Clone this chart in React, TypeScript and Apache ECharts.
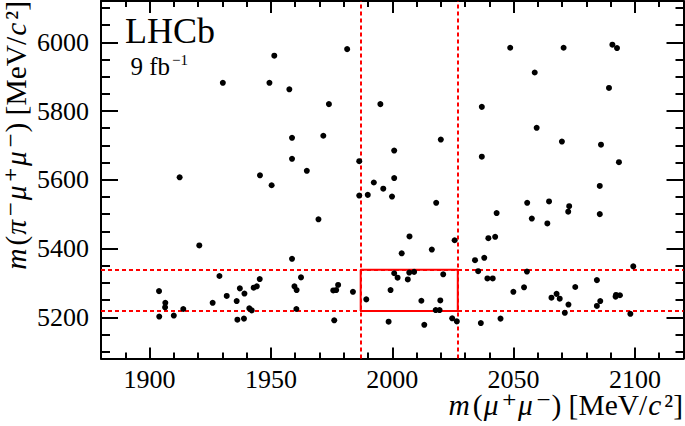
import React, { useEffect, useRef } from "react";
import * as echarts from "echarts";

// m(mu+mu-) [MeV/c^2]
const massMuMu = [
  1951.4, 1930.2, 1949.4, 1957.6, 1958.7, 1958.7, 1912.4, 1945.5, 1981.4, 1973.9,
  1995.1, 2036.9, 1971.6, 2020.0, 2000.8, 1986.4, 1964.8, 2000.8, 2036.9, 1992.4,
  1996.3, 1986.4, 1989.9, 1999.9, 2048.6, 2070.6, 2090.7, 2092.6, 2058.7, 2089.3,
  2059.5, 2069.9, 2086.0, 2093.4, 2085.5, 2064.6, 1950.3, 1920.5, 1958.7, 1928.8,
  1903.9, 1906.5, 1906.4, 1910.0, 1904.0, 1913.9, 1926.0, 1931.8, 1935.9, 1937.2,
  1939.1, 1941.1, 1942.1, 1936.2, 1938.9, 1942.9, 1944.2, 1945.4, 1959.7, 1960.6,
  1962.4, 1960.5, 1969.6, 1975.7, 1976.9, 1977.7, 1976.1, 1983.8, 1989.3, 1999.3,
  2000.8, 2002.2, 2003.9, 2006.4, 2007.0, 2009.0, 2007.1, 2012.0, 2016.3, 2018.1,
  2017.9, 2019.5, 2019.8, 2021.0, 2013.2, 1998.5, 2024.7, 2026.6, 2025.7, 2034.1,
  2035.4, 2037.9, 2039.2, 2039.6, 2036.5, 2042.4, 2043.0, 2041.4, 2044.6, 2049.9,
  2054.3, 2055.5, 2055.6, 2057.5, 2063.9, 2065.6, 2067.7, 2069.0, 2071.1, 2072.6,
  2072.9, 2072.5, 2075.4, 2085.5, 2084.3, 2084.3, 2085.7, 2092.0, 2092.2, 2093.8,
  2098.1, 2099.3,
];

// m(pi- mu+ mu-) [MeV/c^2]
const massPiMuMu = [
  5961, 5882, 5882, 5863, 5722, 5661, 5607, 5613, 5980, 5820,
  5820, 5812, 5728, 5717, 5685, 5654, 5626, 5605, 5667, 5592,
  5574, 5554, 5556, 5551, 5984, 5984, 5993, 5983, 5912, 5867,
  5751, 5711, 5702, 5651, 5582, 5537, 5584, 5409, 5370, 5320,
  5276, 5242, 5229, 5205, 5202, 5224, 5242, 5262, 5247, 5284,
  5269, 5226, 5220, 5193, 5196, 5286, 5290, 5311, 5290, 5279,
  5316, 5224, 5485, 5278, 5279, 5294, 5191, 5274, 5252, 5279,
  5328, 5315, 5386, 5310, 5330, 5332, 5435, 5248, 5397, 5533,
  5221, 5221, 5249, 5325, 5178, 5187, 5197, 5188, 5424, 5366,
  5334, 5373, 5313, 5430, 5183, 5434, 5503, 5313, 5196, 5274,
  5287, 5333, 5533, 5487, 5473, 5257, 5268, 5254, 5213, 5237,
  5523, 5507, 5288, 5500, 5308, 5233, 5247, 5260, 5265, 5264,
  5210, 5348,
];

// signal window cuts
const cutMuMu = [1987, 2027];
const cutPiMuMu = [5218, 5338];

const xRange = [1880, 2120];
const yRange = [5080, 6120];

const FONT = '"Liberation Serif", "Times New Roman", "DejaVu Serif", serif';

export default function App() {
  const ref = useRef<HTMLDivElement>(null);

  useEffect(() => {
    if (!ref.current) return;
    const chart = echarts.init(ref.current, undefined, { renderer: "svg" });

    const points = massMuMu.map((x, i) => [x, massPiMuMu[i]]);
    const rect = [
      [cutMuMu[0], cutPiMuMu[0]],
      [cutMuMu[1], cutPiMuMu[0]],
      [cutMuMu[1], cutPiMuMu[1]],
      [cutMuMu[0], cutPiMuMu[1]],
      [cutMuMu[0], cutPiMuMu[0]],
    ];

    const line = { color: "#000", width: 2 };
    const plain = (v: number) => String(Math.round(v));

    const xAxisBase = (pos: "bottom" | "top", labels: boolean, major: number, minor: number) => ({
      type: "value",
      min: xRange[0],
      max: xRange[1],
      splitNumber: 5,
      position: pos,
      axisLine: { show: true, onZero: false, lineStyle: line },
      axisTick: { show: true, inside: true, length: major, lineStyle: line },
      minorTick: { show: true, splitNumber: 5, length: minor, lineStyle: line },
      splitLine: { show: false },
      axisLabel: {
        show: labels,
        margin: 8,
        fontSize: 26,
        fontFamily: FONT,
        color: "#000",
        showMinLabel: false,
        showMaxLabel: false,
        formatter: plain,
      },
    });

    const yAxisBase = (pos: "left" | "right", labels: boolean, major: number, minor: number) => ({
      type: "value",
      min: yRange[0],
      max: yRange[1],
      splitNumber: 5,
      position: pos,
      axisLine: { show: true, onZero: false, lineStyle: line },
      axisTick: { show: true, inside: true, length: major, lineStyle: line },
      minorTick: { show: true, splitNumber: 4, length: minor, lineStyle: line },
      splitLine: { show: false },
      axisLabel: {
        show: labels,
        margin: 12,
        fontSize: 26,
        fontFamily: FONT,
        color: "#000",
        showMinLabel: false,
        showMaxLabel: false,
        formatter: plain,
      },
    });

    const rich = {
      n: { fontSize: 29.5, fontFamily: FONT, fill: "#000", lineHeight: 32 },
      i: { fontSize: 29.5, fontFamily: FONT, fontStyle: "italic", fill: "#000", lineHeight: 32, padding: [0, 3, 0, 1] },
    };

    chart.setOption({
      animation: false,
      grid: { left: 101, right: 1.5, top: 1, bottom: 67.5, containLabel: false },
      xAxis: [xAxisBase("bottom", true, 11, 6), xAxisBase("top", false, 12, 6)],
      yAxis: [yAxisBase("left", true, 17, 9), yAxisBase("right", false, 17, 8)],
      series: [
        {
          type: "line",
          data: rect,
          showSymbol: false,
          symbol: "none",
          lineStyle: { color: "#ff0000", width: 2 },
          silent: true,
          z: 3,
          markLine: {
            silent: true,
            symbol: ["none", "none"],
            label: { show: false },
            lineStyle: { color: "#ff0000", width: 2, type: [4, 3] },
            data: [
              { xAxis: cutMuMu[0] },
              { xAxis: cutMuMu[1] },
              { yAxis: cutPiMuMu[0] },
              { yAxis: cutPiMuMu[1] },
            ],
          },
        },
        {
          type: "scatter",
          data: points,
          symbol: "circle",
          symbolSize: 6,
          itemStyle: { color: "#000", opacity: 1 },
          silent: true,
          z: 5,
        },
      ],
      graphic: [
        {
          type: "text",
          x: 125,
          y: 30.5,
          style: { text: "LHCb", fontSize: 36, fontFamily: FONT, fill: "#000", align: "left", verticalAlign: "middle" },
        },
        {
          type: "text",
          x: 130.5,
          y: 66,
          style: { text: "9 fb", fontSize: 25, fontFamily: FONT, fill: "#000", align: "left", verticalAlign: "middle" },
        },
        {
          type: "text",
          x: 172,
          y: 60,
          style: { text: "\u22121", fontSize: 15, fontFamily: FONT, fill: "#000", align: "left", verticalAlign: "middle" },
        },
        {
          type: "text",
          x: 683,
          y: 405,
          style: {
            text: "{i|m}{n|(}{i|\u03bc}{n|\u207a}{i|\u03bc}{n|\u207b) [MeV/}{i|c}{n|\u00b2]}",
            rich,
            align: "right",
            verticalAlign: "middle",
          },
        },
        {
          type: "text",
          x: 16,
          y: 1,
          rotation: Math.PI / 2,
          style: {
            text: "{i|m}{n|(}{i|\u03c0}{n|\u207b}{i|\u03bc}{n|\u207a}{i|\u03bc}{n|\u207b) [MeV/}{i|c}{n|\u00b2]}",
            rich,
            align: "right",
            verticalAlign: "middle",
          },
        },
      ],
    });

    return () => chart.dispose();
  }, []);

  return (
    <div
      ref={ref}
      style={{ position: "absolute", left: 0, top: 0, width: 685, height: 426, background: "#fff" }}
    />
  );
}
